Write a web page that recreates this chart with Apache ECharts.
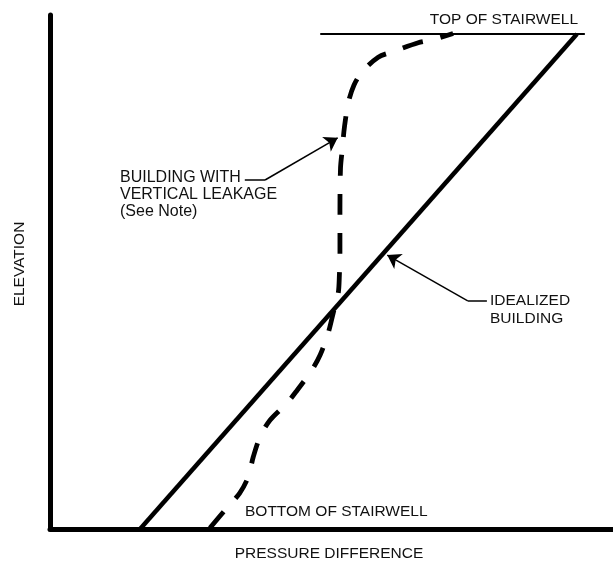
<!DOCTYPE html>
<html>
<head>
<meta charset="utf-8">
<script src="https://cdn.jsdelivr.net/npm/echarts@6/dist/echarts.min.js"></script>
<style>
html,body{margin:0;padding:0;background:#fff;}
#chart{width:613px;height:568px;}
</style>
</head>
<body>
<div id="chart"></div>
<script>
// Axis titles
var xTitle = 'PRESSURE DIFFERENCE';
var yTitle = 'ELEVATION';

// Idealized building: straight line from bottom to top of stairwell
var idealX = [16.0, 93.6];
var idealY = [0, 96.3];

// Top of stairwell reference line
var topX = [48.0, 95.0];
var topY = [96.3, 96.3];

// Building with vertical leakage (dashed)
var leakX = [28.4, 31.1, 33.7, 35.2, 36.1, 37.3, 39.1, 42.1, 43.9, 46.5, 48.0, 49.4, 50.3, 51.2, 51.4, 51.5, 51.5, 51.6, 51.9, 52.3, 53.0, 54.0, 55.5, 58.3, 61.0, 65.4, 68.0, 71.6];
var leakY = [0.2, 3.7, 7.0, 10.1, 14.0, 17.9, 21.2, 24.5, 27.0, 30.9, 33.9, 38.1, 42.0, 45.9, 49.4, 53.7, 62.1, 70.2, 73.7, 78.2, 83.0, 86.4, 89.0, 91.8, 92.9, 94.6, 95.2, 96.4];

// Annotation leaders (anchor points in data units): start, elbow, arrow tip
var leakLeaderX = [34.6, 38.2, 51.1];
var leakLeaderY = [67.9, 67.9, 76.1];
var idealLeaderX = [77.6, 74.2, 59.9];
var idealLeaderY = [44.4, 44.4, 53.3];

// Annotation texts
var leakLabel = ['BUILDING WITH', 'VERTICAL LEAKAGE', '(See Note)'];
var idealLabel = ['IDEALIZED', 'BUILDING'];
var topLabel = 'TOP OF STAIRWELL';
var bottomLabel = 'BOTTOM OF STAIRWELL';

function zip(xs, ys){ return xs.map(function(x,i){ return [x, ys[i]]; }); }
function seg(xs, ys, a, b){ return {coords:[[xs[a], ys[a]], [xs[b], ys[b]]]}; }

var FONT = '"Liberation Sans", Arial, sans-serif';
var FS = '15.5px ';
var txt = function(text, x, y, align, fs){
  return {type:'text', x:x, y:y, style:{text:text, fill:'#111', font:(fs||FS) + FONT, textAlign:align||'left', textVerticalAlign:'middle'}};
};

var chart = echarts.init(document.getElementById('chart'), null, {renderer:'canvas'});
var graphics = [
  txt(topLabel, 578, 20, 'right'),
  txt(leakLabel[0], 120, 178, 'left', '16px '),
  txt(leakLabel[1], 120, 195, 'left', '16px '),
  txt(leakLabel[2], 120, 212, 'left', '16px '),
  txt(idealLabel[0], 490, 300.5),
  txt(idealLabel[1], 490, 318.5),
  txt(bottomLabel, 245, 512),
  txt(xTitle, 329, 554, 'center'),
  {type:'text', x:20, y:264, rotation:Math.PI/2, style:{text:yTitle, fill:'#111', font:FS + FONT, textAlign:'center', textVerticalAlign:'middle'}}
];

chart.setOption({
  animation:false,
  backgroundColor:'#fff',
  grid:{left:50, right:0, top:15, bottom:39, containLabel:false},
  xAxis:{type:'value', min:0, max:100, axisLine:{show:true, lineStyle:{color:'#000', width:5}}, axisTick:{show:false}, axisLabel:{show:false}, splitLine:{show:false}},
  yAxis:{type:'value', min:0, max:100, axisLine:{show:true, lineStyle:{color:'#000', width:5}}, axisTick:{show:false}, axisLabel:{show:false}, splitLine:{show:false}},
  graphic:graphics,
  series:[
    {type:'line', data:zip(idealX, idealY), symbol:'none', lineStyle:{color:'#000', width:4.5}, z:3},
    {type:'line', data:zip(topX, topY), symbol:'none', lineStyle:{color:'#000', width:2}, z:3},
    {type:'line', data:zip(leakX, leakY), symbol:'none', smooth:0.3, lineStyle:{color:'#000', width:4.8, type:[21,18], cap:'butt'}, z:4},
    {type:'lines', coordinateSystem:'cartesian2d', symbol:'none',
      lineStyle:{color:'#000', width:1.5, opacity:1},
      data:[seg(leakLeaderX, leakLeaderY, 0, 1), seg(idealLeaderX, idealLeaderY, 0, 1)], z:5},
    {type:'lines', coordinateSystem:'cartesian2d', symbol:['none','arrow'], symbolSize:[8,13],
      lineStyle:{color:'#000', width:1.5, opacity:1},
      data:[seg(leakLeaderX, leakLeaderY, 1, 2), seg(idealLeaderX, idealLeaderY, 1, 2)], z:5}
  ]
});
</script>
</body>
</html>
